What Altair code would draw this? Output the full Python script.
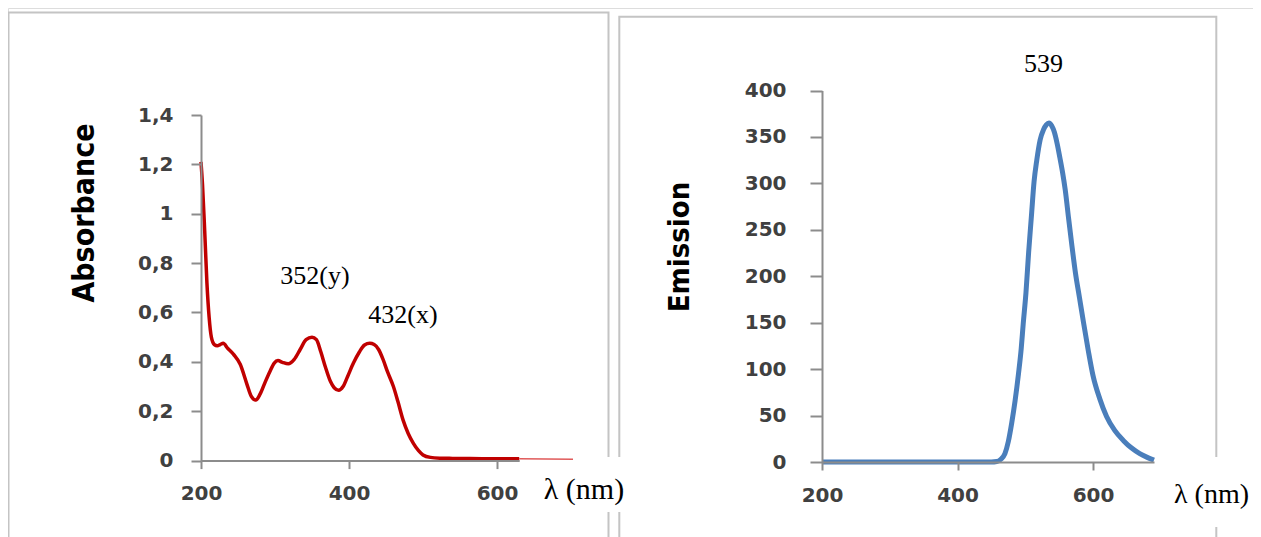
import altair as alt
import pandas as pd

# ---------------- data ----------------
abs_nm = [200, 202, 205, 208, 211, 214, 218, 222, 226, 230, 236, 244, 253, 262, 268, 274,
          280, 287, 293, 299, 304, 310, 318, 326, 334, 342, 350, 356, 362, 368, 375, 380,
          386, 392, 398, 406, 414, 421, 428, 434, 440, 446, 452, 460, 466, 473, 480, 487,
          494, 500, 510, 523, 540, 580, 630, 703]
abs_val = [1.21, 1.12, 0.93, 0.72, 0.58, 0.50, 0.47, 0.465, 0.47, 0.475, 0.455, 0.43, 0.39,
           0.31, 0.26, 0.245, 0.27, 0.32, 0.36, 0.395, 0.405, 0.398, 0.392, 0.41, 0.45, 0.49,
           0.50, 0.49, 0.44, 0.38, 0.32, 0.295, 0.285, 0.30, 0.34, 0.395, 0.44, 0.468, 0.475,
           0.47, 0.45, 0.41, 0.36, 0.30, 0.24, 0.165, 0.11, 0.07, 0.04, 0.023, 0.013, 0.01,
           0.009, 0.008, 0.007, 0.005]

em_nm = [200, 300, 400, 450, 458, 464, 470, 475, 480, 485, 490, 494, 497, 501, 505, 509,
         513, 517, 522, 527, 531, 535, 539, 543, 547, 551, 555, 559, 564, 569, 574, 580,
         586, 593, 600, 610, 620, 632, 645, 657, 669, 680, 690]
em_val = [0, 0, 0, 0, 0.5, 3, 9, 22, 42, 66, 95, 122, 149, 182, 226, 264, 302, 325, 347,
          358, 363, 365, 362, 355, 343, 328, 312, 293, 262, 232, 204, 177, 150, 120, 93, 68,
          49, 34, 23, 15, 9, 5, 2]

abs_y_ticks = [0, 0.2, 0.4, 0.6, 0.8, 1.0, 1.2, 1.4]
em_y_ticks = [0, 50, 100, 150, 200, 250, 300, 350, 400]
x_ticks = [200, 400, 600]

abs_ann_text = ["352(y)", "432(x)"]
abs_ann_nm = [354, 473]
abs_ann_val = [0.748, 0.59]
em_ann_text = ["539"]
em_ann_nm = [527]
em_ann_val = [429]

abs_df = pd.DataFrame({"nm": abs_nm, "A": abs_val})
em_df = pd.DataFrame({"nm": em_nm, "E": em_val})
abs_ann = pd.DataFrame({"nm": abs_ann_nm, "A": abs_ann_val, "t": abs_ann_text})
em_ann = pd.DataFrame({"nm": em_ann_nm, "E": em_ann_val, "t": em_ann_text})
dummy = pd.DataFrame({"k": [0]})

# ---------------- styling ----------------
W, H = 1245, 529
LBL_FONT = "DejaVu Sans"
TITLE_FONT = "DejaVu Sans Condensed, DejaVu Sans, sans-serif"
SERIF = "Liberation Serif"
AX_GRAY = "#8c8c8c"
LBL_COL = "#404040"

common_axis = dict(
    grid=False, domainColor=AX_GRAY, tickColor=AX_GRAY, domainWidth=2, tickWidth=2,
    labelFont=LBL_FONT, labelFontWeight="bold", labelFontSize=20, labelColor=LBL_COL,
    labelFlush=False, labelOverlap=False,
)

# Left panel (absorbance)
xL = alt.X("nm:Q",
           scale=alt.Scale(domain=[200, 630], range=[193, 511.2], nice=False, zero=False),
           axis=alt.Axis(orient="bottom", offset=452.6 - H, values=x_ticks, tickSize=8,
                         labelPadding=15, title="λ (nm)", titleFont=SERIF,
                         titleFontWeight="normal", titleFontSize=30, titleColor="black",
                         titleX=575.5, titleY=28.5, titleAlign="center",
                         titleBaseline="middle", zindex=1, **common_axis))
yL = alt.Y("A:Q",
           scale=alt.Scale(domain=[0, 1.4], range=[452.6, 107], nice=False, zero=False),
           axis=alt.Axis(orient="left", offset=-193, values=abs_y_ticks, tickSize=10,
                         labelPadding=18,
                         labelExpr="replace(format(datum.value, '~g'), '.', ',')",
                         title="Absorbance", titleFont=TITLE_FONT, titleFontWeight="bold",
                         titleFontSize=30, titleColor="black", titleX=-117, titleY=204.5,
                         titleAngle=270, titleAlign="center", titleBaseline="middle",
                         zindex=1, **common_axis))

abs_line = alt.Chart(abs_df).transform_filter("datum.nm <= 630").mark_line(
    color="#c00000", strokeWidth=3.5, interpolate="monotone", clip=False
).encode(x=xL, y=yL)
abs_ext = alt.Chart(abs_df).transform_filter("datum.nm >= 630").mark_line(
    color="#e05a5a", strokeWidth=1.5, interpolate="monotone", clip=False
).encode(x=xL, y=yL)
abs_text = alt.Chart(abs_ann).mark_text(
    font=SERIF, fontSize=26, color="black", align="center", baseline="middle"
).encode(x=xL, y=yL, text="t:N")
left = alt.layer(abs_line, abs_ext, abs_text)

# Right panel (emission)
xR = alt.X("nm:Q",
           scale=alt.Scale(domain=[200, 690], range=[814, 1146], nice=False, zero=False),
           axis=alt.Axis(orient="bottom", offset=454 - H, values=x_ticks, tickSize=8,
                         labelPadding=15, title="λ (nm)", titleFont=SERIF,
                         titleFontWeight="normal", titleFontSize=28, titleColor="black",
                         titleX=1203, titleY=32, titleAlign="center",
                         titleBaseline="middle", zindex=1, **common_axis))
yR = alt.Y("E:Q",
           scale=alt.Scale(domain=[0, 400], range=[454, 82.5], nice=False, zero=False),
           axis=alt.Axis(orient="left", offset=-814, values=em_y_ticks, tickSize=12,
                         labelPadding=24, title="Emission", titleFont=TITLE_FONT,
                         titleFontWeight="bold", titleFontSize=29, titleColor="black",
                         titleX=-143, titleY=238.5, titleAngle=270, titleAlign="center",
                         titleBaseline="middle", zindex=1, **common_axis))

em_line = alt.Chart(em_df).mark_line(
    color="#4a7ebb", strokeWidth=5, interpolate="monotone", clip=False
).encode(x=xR, y=yR)
em_text = alt.Chart(em_ann).mark_text(
    font=SERIF, fontSize=26, color="black", align="center", baseline="middle"
).encode(x=xR, y=yR, text="t:N")
right = alt.layer(em_line, em_text)

# Decorations: panel frames and white label boxes
def frame(x0, x1, y0):
    return alt.Chart(dummy).mark_rect(
        fill="transparent", stroke="#c4c4c4", strokeWidth=2
    ).encode(x=alt.value(x0), x2=alt.value(x1), y=alt.value(y0), y2=alt.value(600))

def whitebox(x0, x1, y0, y1):
    return alt.Chart(dummy).mark_rect(fill="white").encode(
        x=alt.value(x0), x2=alt.value(x1), y=alt.value(y0), y2=alt.value(y1))

chart = alt.layer(
    frame(0.5, 600.5, 4.5),
    frame(611.3, 1208.3, 8.7),
    left,
    right,
    whitebox(565, 627, 449, 504),
    whitebox(1157, 1245, 449, 519),
).resolve_scale(x="independent", y="independent").properties(
    width=W, height=H, padding=0, autosize=alt.AutoSizeParams(type="none")
).configure_view(strokeWidth=0).configure(background="white")

chart.save("out.html", embed_options={"renderer": "svg", "actions": False})
